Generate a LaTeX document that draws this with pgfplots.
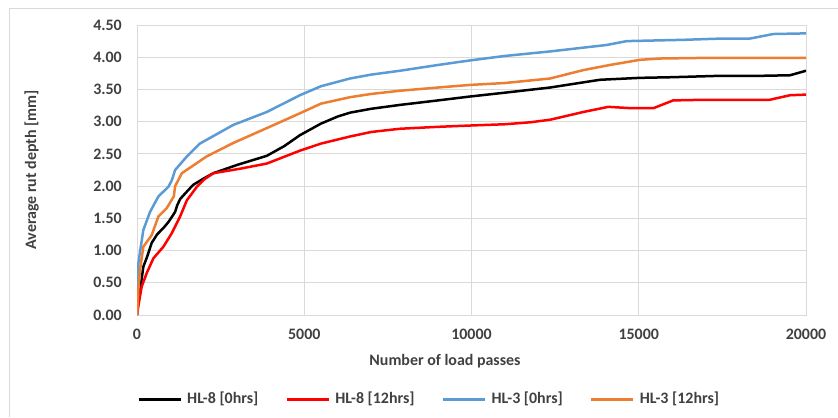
\documentclass[border=0pt]{standalone}
\usepackage{pgfplots}
\pgfplotsset{compat=1.18}
\usepackage{fontspec}
\setmainfont{Carlito}
\definecolor{gridgray}{HTML}{D9D9D9}
\definecolor{txt}{HTML}{404040}
\definecolor{cblue}{HTML}{5B9BD5}
\definecolor{corange}{HTML}{ED7D31}
\definecolor{cred}{HTML}{FF0000}
\begin{document}
\fontsize{16}{19}\selectfont\bfseries
\begin{tikzpicture}[x=1bp,y=1bp]
\path[use as bounding box] (0,0) rectangle (838,417);
\draw[gridgray, line width=0.8bp] (9,0) -- (9,409) -- (838,409);
\begin{axis}[
  at={(137bp,102bp)}, anchor=south west,
  scale only axis, width=669bp, height=290bp,
  xmin=0, xmax=20000, ymin=0, ymax=4.5,
  xtick={0,5000,10000,15000,20000},
  ytick={0,0.5,1,1.5,2,2.5,3,3.5,4,4.5},
  scaled x ticks=false,
  grid=major,
  major grid style={gridgray, line width=0.8bp},
  axis line style={gridgray, line width=0.8bp},
  major tick length=0pt,
  tick style={draw=none},
  /pgf/number format/assume math mode=true,
  ticklabel style={font=\fontsize{16}{19}\selectfont\bfseries, text=txt},
  x tick label style={/pgf/number format/1000 sep={}, anchor=north, inner sep=0pt, yshift=-14bp},
  y tick label style={/pgf/number format/.cd, fixed, fixed zerofill, precision=2, /tikz/.cd, anchor=east, inner sep=0pt, xshift=-15bp},
  legend style={at={(0,-0.2897)}, anchor=west, draw=none, fill=none, inner sep=0pt,
    legend columns=4, font=\fontsize{16}{19}\selectfont\bfseries, text=txt,
    nodes={inner sep=1bp},
    /tikz/every odd column/.append style={column sep=4bp},
    /tikz/every even column/.append style={column sep=26bp}},
  legend cell align=left,
  legend image code/.code={\draw[#1, line width=3bp] (0bp,0bp) -- (42bp,0bp);},
  every axis plot/.append style={line width=2.5bp, line join=round},
]
\addplot[black] coordinates {
(0,0) (30,0.2) (90,0.36) (150,0.6) (190,0.75) (300,0.9) (440,1.12) (600,1.25) (790,1.35) (950,1.45) (1140,1.6) (1200,1.7) (1290,1.8) (1500,1.92) (1680,2.02) (2000,2.12) (2280,2.2) (3000,2.33) (3880,2.47) (4400,2.62) (4870,2.79) (5500,2.97) (6000,3.08) (6370,3.14) (7000,3.2) (7860,3.26) (9000,3.33) (9950,3.39) (11000,3.45) (12350,3.53) (13840,3.65) (15040,3.68) (16000,3.69) (17330,3.71) (18500,3.71) (19520,3.72) (20000,3.79)
};
\addlegendentry{HL-8 [0hrs]}
\addplot[cred] coordinates {
(0,0) (60,0.2) (140,0.44) (290,0.65) (490,0.88) (790,1.06) (1040,1.27) (1290,1.53) (1490,1.78) (1790,1.99) (2000,2.1) (2280,2.2) (3080,2.27) (3880,2.35) (4870,2.55) (5500,2.66) (6370,2.77) (7000,2.84) (7860,2.89) (9000,2.92) (9950,2.94) (11000,2.96) (11750,2.99) (12350,3.03) (13340,3.15) (14090,3.23) (14740,3.21) (15440,3.21) (16030,3.33) (17000,3.34) (18920,3.34) (19520,3.41) (20000,3.42)
};
\addlegendentry{HL-8 [12hrs]}
\addplot[cblue] coordinates {
(0,0) (20,0.5) (40,0.8) (90,0.98) (190,1.32) (390,1.6) (640,1.84) (940,1.99) (1040,2.09) (1140,2.25) (1490,2.46) (1880,2.66) (2880,2.95) (3880,3.15) (4870,3.41) (5500,3.55) (6370,3.67) (7000,3.73) (7860,3.79) (9000,3.88) (9950,3.95) (11000,4.02) (12350,4.09) (14040,4.19) (14640,4.25) (16340,4.27) (17500,4.29) (18330,4.29) (19020,4.36) (20000,4.37)
};
\addlegendentry{HL-3 [0hrs]}
\addplot[corange] coordinates {
(0,0) (20,0.2) (40,0.39) (90,0.7) (190,1.06) (440,1.24) (640,1.53) (890,1.66) (1100,1.84) (1140,2.0) (1340,2.2) (2080,2.46) (2880,2.67) (3880,2.9) (4870,3.13) (5500,3.28) (6370,3.38) (7000,3.43) (7860,3.48) (9000,3.53) (9950,3.57) (11000,3.6) (12350,3.67) (13340,3.8) (14140,3.88) (15040,3.96) (15640,3.98) (17000,3.99) (20000,3.99)
};
\addlegendentry{HL-3 [12hrs]}
\end{axis}
\node[anchor=base, text=txt, inner sep=0pt] at (445,52) {Number of load passes};
\node[anchor=base, rotate=90, text=txt, inner sep=0pt] at (36,247) {Average rut depth [mm]};
\end{tikzpicture}
\end{document}
